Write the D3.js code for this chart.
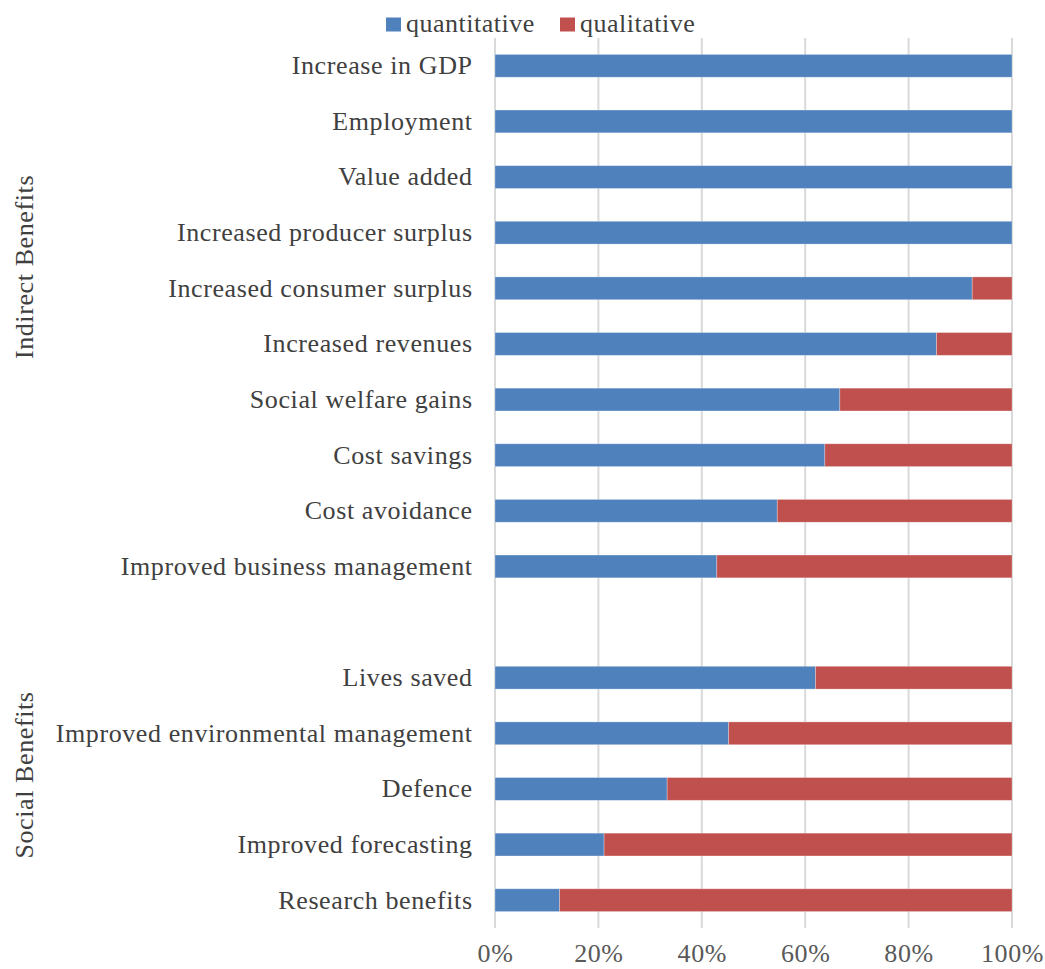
<!DOCTYPE html>
<html>
<head>
<meta charset="utf-8">
<script src="https://cdn.jsdelivr.net/npm/d3@7"></script>
<style>
  html, body { margin: 0; padding: 0; background: #ffffff; }
  svg { display: block; }
  text { font-family: "Liberation Serif", "Times New Roman", serif; }
</style>
</head>
<body>
<svg id="chart" width="1045" height="969"></svg>
<script>
// Benefit categories, top to bottom ("" marks the empty row between groups)
const categories = [
  "Increase in GDP",
  "Employment",
  "Value added",
  "Increased producer surplus",
  "Increased consumer surplus",
  "Increased revenues",
  "Social welfare gains",
  "Cost savings",
  "Cost avoidance",
  "Improved business management",
  "",
  "Lives saved",
  "Improved environmental management",
  "Defence",
  "Improved forecasting",
  "Research benefits"
];

// Share of studies valuing each benefit quantitatively (the rest are qualitative)
const quantitative = [1.0, 1.0, 1.0, 1.0, 0.923, 0.854, 0.667, 0.638, 0.546, 0.429,
                      null, 0.62, 0.452, 0.333, 0.211, 0.125];
const qualitative = quantitative.map(v => v == null ? null : 1 - v);

const seriesNames = ["quantitative", "qualitative"];
const seriesColors = ["#4F81BD", "#C0504D"];

const groups = ["Indirect Benefits", "Social Benefits"];

const tickValues = [0, 0.2, 0.4, 0.6, 0.8, 1.0];

// Layout
const W = 1045, H = 969;
const margin = { top: 38, right: 33, bottom: 41, left: 495 };
const width = W - margin.left - margin.right;
const height = H - margin.top - margin.bottom;
const labelFont = 26, labelSpacing = 0.6;
const groupTitleY = [267, 775];

const svg = d3.select("#chart");
const g = svg.append("g").attr("transform", `translate(${margin.left},${margin.top})`);

const x = d3.scaleLinear().domain([0, 1]).range([0, width]);
const y = d3.scaleBand()
  .domain(categories.map((c, i) => i))
  .range([0, height])
  .paddingInner(0.59)
  .paddingOuter(0.295);

// Vertical gridlines
g.append("g")
  .selectAll("line")
  .data(tickValues)
  .join("line")
  .attr("x1", d => x(d)).attr("x2", d => x(d))
  .attr("y1", 0).attr("y2", height)
  .attr("stroke", "#d9d9d9")
  .attr("stroke-width", 2);

// Stacked bars
const rows = categories.map((c, i) => ({ i, c, q: quantitative[i], l: qualitative[i] }))
  .filter(r => r.q != null);
const stack = d3.stack().keys(["q", "l"])(rows);

stack.forEach((layer, k) => {
  g.append("g")
    .selectAll("rect")
    .data(layer.filter(d => d[1] - d[0] > 0))
    .join("rect")
    .attr("x", d => x(d[0]))
    .attr("y", d => y(d.data.i))
    .attr("width", d => x(d[1]) - x(d[0]))
    .attr("height", y.bandwidth())
    .attr("fill", seriesColors[k])
    .attr("stroke", "#ffffff")
    .attr("stroke-opacity", 0.35)
    .attr("stroke-width", 0.8);
});

// Category labels
g.append("g")
  .selectAll("text")
  .data(rows)
  .join("text")
  .attr("x", -23 + labelSpacing)
  .attr("y", d => y(d.i) + y.bandwidth() / 2)
  .attr("dy", "0.32em")
  .attr("text-anchor", "end")
  .attr("font-size", labelFont)
  .attr("letter-spacing", labelSpacing)
  .attr("fill", "#404040")
  .text(d => d.c);

// Percentage ticks
const xAxis = d3.axisBottom(x).tickValues(tickValues).tickFormat(d3.format(".0%")).tickSize(0).tickPadding(16);
const ax = g.append("g").attr("transform", `translate(0,${height})`).call(xAxis);
ax.select(".domain").remove();
ax.selectAll("text")
  .attr("font-size", labelFont)
  .attr("letter-spacing", labelSpacing)
  .attr("font-family", "Liberation Serif, Times New Roman, serif")
  .attr("fill", "#595959");

// Group titles, rotated
groups.forEach((name, k) => {
  svg.append("text")
    .attr("transform", `translate(33,${groupTitleY[k]}) rotate(-90)`)
    .attr("text-anchor", "middle")
    .attr("font-size", labelFont)
    .attr("letter-spacing", labelSpacing)
    .attr("fill", "#404040")
    .text(name);
});

// Legend
const legend = svg.append("g").attr("transform", "translate(386,24.5)");
const legendX = [0, 174];
seriesNames.forEach((name, k) => {
  const lg = legend.append("g").attr("transform", `translate(${legendX[k]},0)`);
  lg.append("rect").attr("x", 0).attr("y", -7).attr("width", 15).attr("height", 14).attr("fill", seriesColors[k]);
  lg.append("text").attr("x", 20).attr("y", 0).attr("dy", "0.3em")
    .attr("font-size", labelFont).attr("letter-spacing", 0.5)
    .attr("fill", "#404040").text(name);
});
</script>
</body>
</html>
